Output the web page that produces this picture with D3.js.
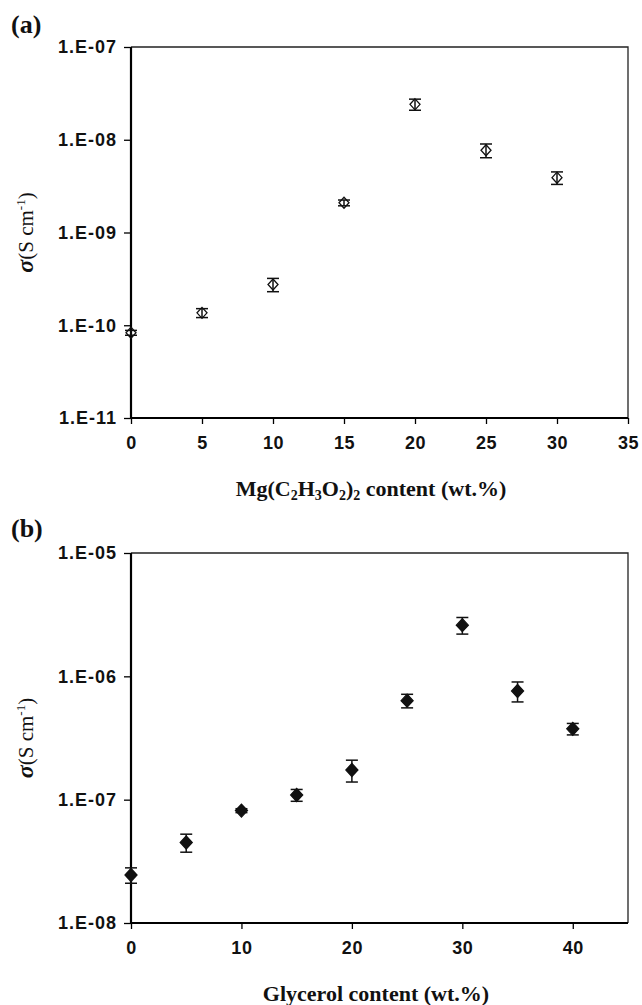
<!DOCTYPE html>
<html>
<head>
<meta charset="utf-8">
<script src="https://cdn.jsdelivr.net/npm/d3@7"></script>
<style>
  body { margin: 0; background: #fff; }
  .tick text { font-family: "Liberation Sans", Arial, sans-serif; font-weight: bold; fill: #111; }
</style>
</head>
<body>
<svg width="642" height="1005"></svg>
<script>
// panel (a): Mg acetate content
let mgContent = [0, 5, 10, 15, 20, 25, 30];
let sigmaA = [8.3e-11, 1.36e-10, 2.75e-10, 2.09e-9, 2.41e-8, 7.7e-9, 3.9e-9];
let errA = [0.5e-11, 0.15e-10, 0.45e-10, 0.15e-9, 0.33e-8, 1.3e-9, 0.6e-9];
let xTicksA = [0, 5, 10, 15, 20, 25, 30, 35];
let yTicksA = [1e-11, 1e-10, 1e-9, 1e-8, 1e-7];

// panel (b): glycerol content
let glycerol = [0, 5, 10, 15, 20, 25, 30, 35, 40];
let sigmaB = [2.45e-8, 4.5e-8, 8.15e-8, 1.09e-7, 1.74e-7, 6.35e-7, 2.6e-6, 7.6e-7, 3.75e-7];
let errB = [0.35e-8, 0.75e-8, 0.3e-8, 0.12e-7, 0.35e-7, 0.8e-7, 0.4e-6, 1.4e-7, 0.4e-7];
let xTicksB = [0, 10, 20, 30, 40];
let yTicksB = [1e-8, 1e-7, 1e-6, 1e-5];

let svg = d3.select("svg");

let sciFormat = d => {
  let e = Math.round(Math.log10(d));
  return "1.E" + (e < 0 ? "-" : "+") + String(Math.abs(e)).padStart(2, "0");
};

function drawPanel(opt) {
  let g = svg.append("g");
  let x = d3.scaleLinear().domain(opt.xDomain).range([131, 628]);
  let y = d3.scaleLog().domain([opt.yTicks[0], opt.yTicks[opt.yTicks.length - 1]]).range([opt.bottom, opt.top]);

  // frame top + right (thin)
  g.append("path")
    .attr("d", `M131,${opt.top}H628V${opt.bottom}`)
    .attr("fill", "none").attr("stroke", "#222").attr("stroke-width", 1.3);

  let yAxis = g.append("g")
    .attr("transform", "translate(131,0)")
    .call(d3.axisLeft(y).tickValues(opt.yTicks).tickFormat(sciFormat).tickSize(7).tickPadding(7));
  yAxis.select(".domain").attr("stroke-width", 2.2).attr("d", `M0,${opt.top}V${opt.bottom}`);
  yAxis.selectAll(".tick line").attr("stroke-width", 1.3);
  yAxis.selectAll(".tick text").style("font-size", "18px").attr("letter-spacing", "1px");

  let xAxis = g.append("g")
    .attr("transform", `translate(0,${opt.bottom})`)
    .call(d3.axisBottom(x).tickValues(opt.xTicks).tickSize(6).tickPadding(12));
  xAxis.select(".domain").attr("stroke-width", 2.2).attr("d", "M131,0H628");
  xAxis.selectAll(".tick line").attr("stroke-width", 1.3);
  xAxis.selectAll(".tick text").style("font-size", "18px").attr("letter-spacing", "0.6px");

  // error bars
  let pts = opt.xs.map((v, i) => ({ x: v, y: opt.ys[i], e: opt.errs[i] }));
  let eb = g.selectAll(".eb").data(pts).enter().append("g").attr("class", "eb")
    .attr("stroke", "#111").attr("stroke-width", 1.5);
  eb.append("line")
    .attr("x1", d => x(d.x)).attr("x2", d => x(d.x))
    .attr("y1", d => y(d.y + d.e)).attr("y2", d => y(d.y - d.e));
  eb.append("line")
    .attr("x1", d => x(d.x) - 6).attr("x2", d => x(d.x) + 6)
    .attr("y1", d => y(d.y + d.e)).attr("y2", d => y(d.y + d.e));
  eb.append("line")
    .attr("x1", d => x(d.x) - 6).attr("x2", d => x(d.x) + 6)
    .attr("y1", d => y(d.y - d.e)).attr("y2", d => y(d.y - d.e));

  // markers
  let rx = opt.filled ? 6 : 5, ry = opt.filled ? 6.5 : 5.5;
  g.selectAll(".mk").data(pts).enter().append("path").attr("class", "mk")
    .attr("d", d => {
      let cx = x(d.x), cy = y(d.y);
      return `M${cx},${cy - ry}L${cx + rx},${cy}L${cx},${cy + ry}L${cx - rx},${cy}Z`;
    })
    .attr("fill", opt.filled ? "#111" : "none")
    .attr("stroke", "#111").attr("stroke-width", 1.3);

  // panel letter
  g.append("text").attr("x", 11).attr("y", opt.letterY)
    .style("font-family", "'Liberation Serif', 'Times New Roman', serif")
    .style("font-weight", "bold").style("font-size", "26px").attr("fill", "#111")
    .text(opt.letter);

  // y title
  let ymid = (opt.top + opt.bottom) / 2;
  let yt = g.append("text")
    .attr("transform", `translate(33,${ymid}) rotate(-90)`)
    .attr("text-anchor", "middle")
    .style("font-family", "'Liberation Serif', 'Times New Roman', serif")
    .style("font-size", "21px").attr("fill", "#111");
  yt.append("tspan").style("font-weight", "bold").style("font-style", "italic").style("font-size", "24px").text("σ");
  yt.append("tspan").text("(S cm");
  yt.append("tspan").attr("dy", -8).style("font-size", "13px").text("-1");
  yt.append("tspan").attr("dy", 8).text(")");

  // x title
  let xt = g.append("text")
    .attr("x", opt.xTitleX).attr("y", opt.bottom + 78)
    .attr("text-anchor", "middle")
    .style("font-family", "'Liberation Serif', 'Times New Roman', serif")
    .style("font-weight", "bold").style("font-size", "22px").attr("fill", "#111");
  opt.xTitle.forEach(p => {
    let t = xt.append("tspan").text(p.t);
    if (p.sub) t.attr("dy", 4).style("font-size", "14px");
    else if (p.back) t.attr("dy", -4);
  });
}

drawPanel({
  letter: "(a)", letterY: 33,
  top: 47, bottom: 418,
  xDomain: [0, 35], xTicks: xTicksA, yTicks: yTicksA,
  xs: mgContent, ys: sigmaA, errs: errA, filled: false,
  xTitleX: 371,
  xTitle: [
    { t: "Mg(C" }, { t: "2", sub: true }, { t: "H", back: true }, { t: "3", sub: true },
    { t: "O", back: true }, { t: "2", sub: true }, { t: ")", back: true }, { t: "2", sub: true },
    { t: " content (wt.%)", back: true }
  ]
});

drawPanel({
  letter: "(b)", letterY: 537,
  top: 553, bottom: 923,
  xDomain: [0, 45], xTicks: xTicksB, yTicks: yTicksB,
  xs: glycerol, ys: sigmaB, errs: errB, filled: true,
  xTitleX: 376,
  xTitle: [{ t: "Glycerol content (wt.%)" }]
});
</script>
</body>
</html>
